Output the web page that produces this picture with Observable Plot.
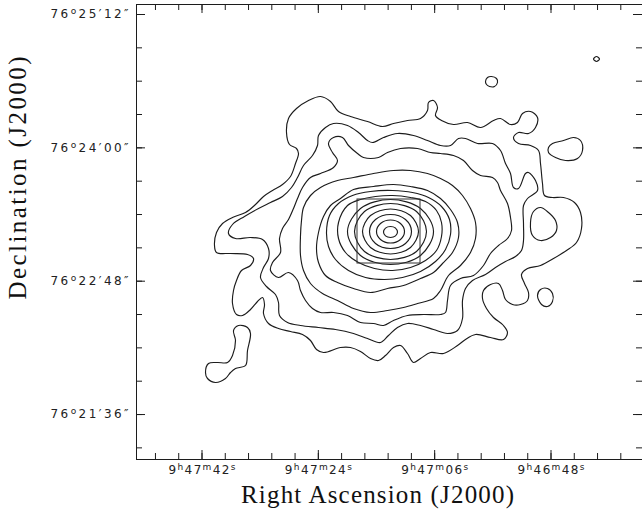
<!DOCTYPE html>
<html><head><meta charset="utf-8">
<script src="https://cdn.jsdelivr.net/npm/d3@7"></script>
<script src="https://cdn.jsdelivr.net/npm/@observablehq/plot@0.6"></script>
<style>html,body{margin:0;padding:0;background:#fff;overflow:hidden}svg{display:block}</style>
</head><body><div id="chart"></div>
<script>
// ---- Contour data, image pixel coordinates (x to the west, y to the north) ----
const c1 = [[78,214],[80,227],[86,236],[96,242],[109,247],[119,255],[127,263],[136,269],[146,275],[154,283],[159,296],[162,306],[160,311],[153,315],[150,327],[152,341],[160,351],[172,359],[184,363],[194,358],[202,348],[214,343],[231,338],[246,333],[257,336],[271,339],[284,341],[291,349],[292,357],[297,359],[301,352],[299,344],[305,339],[317,335],[331,337],[344,332],[357,339],[364,341],[374,335],[381,337],[386,346],[394,348],[401,342],[399,332],[392,326],[382,327],[377,322],[382,316],[394,314],[402,309],[404,296],[406,276],[408,264],[416,262],[427,262],[438,257],[444,247],[445,231],[440,217],[430,209],[417,201],[404,194],[391,191],[385,185],[388,176],[392,167],[391,159],[384,155],[376,155],[369,160],[366,169],[362,176],[354,175],[347,169],[346,161],[350,151],[357,142],[367,134],[371,127],[367,120],[354,122],[339,125],[329,120],[321,114],[307,106],[294,107],[284,101],[277,97],[271,106],[264,114],[257,112],[249,104],[242,99],[234,101],[224,108],[214,112],[204,112],[187,107],[180,110],[174,119],[166,125],[154,128],[142,131],[132,136],[127,146],[128,155],[126,162],[121,158],[114,150],[106,144],[100,145],[96,156],[97,169],[100,179],[105,189],[114,194],[117,201],[111,205],[94,206],[80,207]];
const c2 = [[182,324],[189,332],[197,336],[211,334],[222,327],[231,319],[236,317],[247,322],[261,326],[277,324],[291,319],[304,314],[314,314],[322,321],[329,321],[341,316],[356,316],[364,309],[369,296],[374,286],[377,272],[382,271],[389,286],[392,287],[399,279],[401,269],[391,261],[387,254],[387,236],[387,219],[385,209],[379,203],[369,198],[359,192],[349,185],[336,179],[329,171],[326,159],[326,141],[321,129],[311,126],[297,130],[284,134],[271,136],[261,132],[252,124],[244,117],[231,121],[217,126],[199,130],[182,132],[164,134],[151,137],[143,144],[142,157],[139,165],[130,173],[124,182],[127,192],[132,201],[132,211],[126,220],[114,222],[99,221],[92,226],[96,235],[108,243],[122,251],[134,257],[146,263],[155,272],[161,282],[167,294],[176,304],[181,314]];
const c3 = [[184,286],[197,292],[201,299],[196,307],[192,316],[197,322],[206,322],[212,314],[221,306],[227,302],[242,302],[251,307],[264,311],[281,311],[294,307],[304,306],[317,304],[327,299],[336,289],[344,284],[356,282],[361,277],[364,269],[371,256],[374,242],[375,229],[371,221],[362,214],[354,206],[347,194],[337,184],[324,181],[314,174],[311,159],[309,147],[304,145],[287,145],[271,144],[257,139],[247,134],[237,136],[224,137],[211,144],[197,147],[184,147],[176,151],[169,159],[164,169],[161,179],[152,187],[142,182],[134,189],[136,197],[144,207],[143,221],[146,231],[152,240],[157,251],[161,261],[166,272],[174,282]];
const c4 = [[184,272],[201,279],[217,282],[237,286],[257,289],[274,289],[291,286],[304,281],[316,274],[326,264],[334,251],[339,237],[339,221],[334,207],[324,194],[312,184],[304,169],[297,161],[281,156],[267,152],[251,149],[234,147],[217,151],[201,159],[186,166],[174,176],[167,189],[164,204],[164,224],[165,239],[167,252],[174,264]];
const c5 = [[204,261],[217,270],[237,273],[257,275],[274,273],[291,269],[304,261],[314,250],[321,237],[322,222],[316,207],[306,196],[297,187],[284,181],[267,174],[251,171],[234,167],[217,171],[201,177],[189,184],[182,197],[180,211],[182,227],[187,243],[194,254]];
const c6 = [[190,227],[193,244],[202,256],[216,264],[234,268],[256,269],[276,267],[292,262],[305,253],[313,240],[314,225],[309,210],[299,198],[284,188],[266,182],[248,180],[229,182],[212,189],[199,200],[192,213]];
const c7 = [[211,254],[224,260],[239,263],[256,264],[274,262],[289,258],[300,249],[305,237],[305,223],[300,209],[289,199],[274,192],[256,189],[238,191],[222,197],[209,207],[202,221],[202,237]];
const c8 = [[297,228],[284,251],[254,260],[224,251],[211,228],[224,204],[254,195],[284,204]];
const c9 = [[290,228],[280,248],[254,256],[228,248],[218,228],[228,208],[254,200],[280,208]];
const c10 = [[282,228],[274,244],[254,250.5],[234,244],[226,228],[234,212],[254,205.5],[274,212]];
const c11 = [[275,228],[269,240],[254,245],[239,240],[233,228],[239,216],[254,211],[269,216]];
const c12 = [[268,228],[264,236],[254,239.5],[244,236],[240,228],[244,220],[254,216.5],[264,220]];
const c13 = [[261,227.5],[259,231.4],[254,233],[249,231.4],[247,227.5],[249,223.6],[254,222],[259,223.6]];
const islandNE = [[349,378],[351,382],[355,383],[360,381],[361,377],[358,373],[353,373],[350,375]];
const islandDot = [[457,400.5],[460,403],[463,400.5],[460,398]];
const islandE = [[412,312],[416,316],[427,319],[437,322],[444,319],[446,309],[441,301],[429,299],[419,302],[412,307]];
const islandMid = [[394,237],[397,248],[404,252],[412,247],[419,239],[420,229],[414,222],[404,219],[396,224]];
const islandSE = [[401,164],[404,170],[411,171],[416,166],[416,158],[411,153],[405,155]];
const islandSW = [[69,87],[72,96],[81,97],[91,97],[96,104],[99,119],[97,129],[102,134],[111,132],[114,126],[111,109],[109,94],[99,91],[94,87],[89,81],[79,77],[71,81]];
// inset box (x1, x2, y1, y2) in image pixels
const boxX = [221, 284];
const boxY = [196, 260];

// ---- Axis ticks: RA in seconds after 9h46m00s, Dec in arcsec after 76°00'00" ----
const raMinorSec = [109.2,105.6,102,98.4,94.8,91.2,87.6,84,80.4,76.8,73.2,69.6,66,62.4,58.8,55.2,51.6,48,44.4,40.8,37.2];
const raMajorSec = [102, 84, 66, 48];
const raLabels = ["9ʰ47ᵐ42ˢ", "9ʰ47ᵐ24ˢ", "9ʰ47ᵐ06ˢ", "9ʰ46ᵐ48ˢ"];
const decMinorArcsec = [1512,1494,1476,1458,1440,1422,1404,1386,1368,1350,1332,1314,1296,1278];
const decMajorArcsec = [1512, 1440, 1368, 1296];
const decLabels = ["76ᵒ25′12″", "76ᵒ24′00″", "76ᵒ22′48″", "76ᵒ21′36″"];
const xTitle = "Right Ascension (J2000)";
const yTitle = "Declination (J2000)";

// ---- simple linear WCS of the image ----
const WCS = {raRefSec: 102, raRefPix: 65.5, pixPerRaSec: 6.463, decRefArcsec: 1512, decRefPix: 445, pixPerArcsec: 1.852};
const raPix = s => WCS.raRefPix + (WCS.raRefSec - s) * WCS.pixPerRaSec;
const decPix = a => WCS.decRefPix - (WCS.decRefArcsec - a) * WCS.pixPerArcsec;

const contourSets = [["c1",c1],["c2",c2],["c3",c3],["c4",c4],["c5",c5],["c6",c6],["c7",c7],["c8",c8],["c9",c9],["c10",c10],["c11",c11],["c12",c12],["c13",c13],["i1",islandNE],["i2",islandDot],["i3",islandE],["i4",islandMid],["i5",islandSE],["i6",islandSW]];
const rows = contourSets.flatMap(([id, pts]) => pts.map(([x, y]) => ({id, x, y})));

const W = 642, H = 513, ML = 136, MR = 0, MT = 4, MB = 54;
const FW = W - ML - MR, FH = H - MT - MB;
const ink = "#1c1c1c";
const minor = 6, major = 9;

const raT = raMajorSec.map((s, i) => ({s, label: raLabels[i]}));
const decT = decMajorArcsec.map((a, i) => ({a, label: decLabels[i]}));

const svg = Plot.plot({
  width: W, height: H,
  marginLeft: ML, marginRight: MR, marginTop: MT, marginBottom: MB,
  x: {domain: [0, FW], axis: null},
  y: {domain: [0, FH], axis: null},
  style: {background: "#fff"},
  marks: [
    Plot.line(rows, {x: "x", y: "y", z: "id", curve: "catmull-rom-closed", stroke: ink, strokeWidth: 1.15}),
    Plot.rect([0], {x1: () => boxX[0], x2: () => boxX[1], y1: () => boxY[0], y2: () => boxY[1], fill: "none", stroke: "#333", strokeWidth: 1}),
    // ticks, all pointing inward
    Plot.ruleX(raMinorSec, {x: raPix, insetTop: FH - minor, stroke: ink}),
    Plot.ruleX(raMinorSec, {x: raPix, insetBottom: FH - minor, stroke: ink}),
    Plot.ruleX(raMajorSec, {x: raPix, insetTop: FH - major, stroke: ink}),
    Plot.ruleX(raMajorSec, {x: raPix, insetBottom: FH - major, stroke: ink}),
    Plot.ruleY(decMinorArcsec, {y: decPix, insetRight: FW - minor, stroke: ink}),
    Plot.ruleY(decMinorArcsec, {y: decPix, insetLeft: FW - minor, stroke: ink}),
    Plot.ruleY(decMajorArcsec, {y: decPix, insetRight: FW - major, stroke: ink}),
    Plot.ruleY(decMajorArcsec, {y: decPix, insetLeft: FW - major, stroke: ink}),
    Plot.frame({stroke: ink}),
    Plot.text(raT, {x: d => raPix(d.s), text: "label", frameAnchor: "bottom", dy: 14, fontSize: 12, fontFamily: "DejaVu Sans", fill: "#222"}),
    Plot.text(decT, {y: d => decPix(d.a), text: "label", frameAnchor: "left", textAnchor: "end", dx: -8, fontSize: 12, fontFamily: "DejaVu Sans", fill: "#222"}),
    Plot.text([xTitle], {frameAnchor: "bottom", textAnchor: "middle", dx: -12, dy: 43, fontSize: 25, fontFamily: "Liberation Serif", fill: "#111"}),
    Plot.text([yTitle], {frameAnchor: "left", textAnchor: "middle", rotate: -90, dx: -119, dy: -54, fontSize: 25, fontFamily: "Liberation Serif", fill: "#111"})
  ]
});
document.getElementById("chart").appendChild(svg);

// stretch texts to the reference widths and raise the unit letters
const supMap = {"ʰ": "h", "ᵐ": "m", "ˢ": "s", "ᵒ": "o"};
const widths = new Map([[xTitle, 273], [yTitle, 243], ...raLabels.map(l => [l, 67]), ...decLabels.map(l => [l, 78])]);
d3.select(svg).selectAll("text").each(function () {
  const s = this.textContent;
  if (!widths.has(s)) return;
  const t = d3.select(this).attr("textLength", widths.get(s)).attr("lengthAdjust", "spacing");
  if ([...s].some(ch => ch in supMap)) {
    t.text(null);
    let raised = false;
    for (const ch of s) {
      const sup = ch in supMap;
      const span = t.append("tspan").text(sup ? supMap[ch] : ch);
      if (sup) span.attr("font-size", 9);
      if (sup && !raised) span.attr("dy", -4);
      if (!sup && raised) span.attr("dy", 4);
      raised = sup;
    }
  }
});
</script>
</body></html>
